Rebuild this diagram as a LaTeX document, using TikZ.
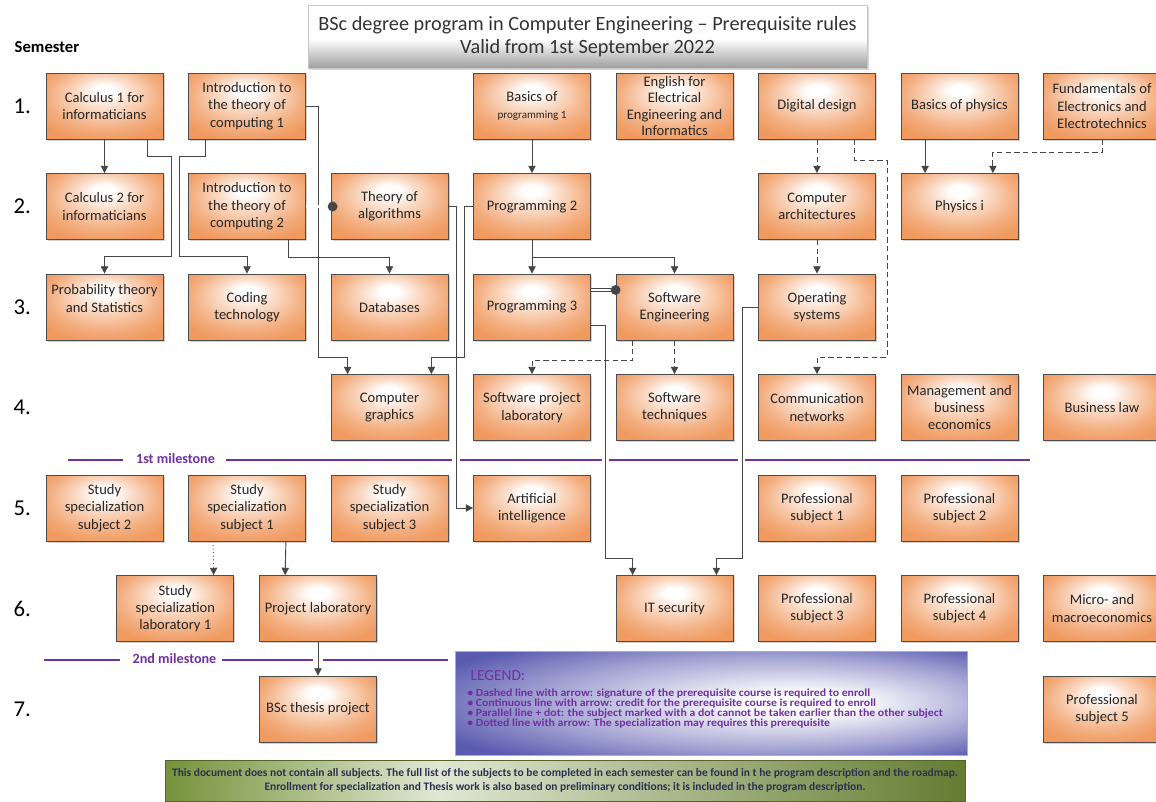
\documentclass[tikz,border=0pt]{standalone}
\usepackage{fontspec}
\setmainfont{Carlito}
\usetikzlibrary{arrows.meta,calc,shadows}
\definecolor{boxor}{RGB}{240,154,96}
\definecolor{lnkcol}{RGB}{70,70,70}
\definecolor{milecol}{RGB}{112,48,160}
\definecolor{legblue}{RGB}{90,90,176}
\definecolor{footgr}{RGB}{118,146,58}
\definecolor{foottxt}{RGB}{40,50,80}
\pgfdeclareradialshading{subjglow}{\pgfpoint{0bp}{13bp}}{color(0bp)=(white); color(4bp)=(white); color(12bp)=(boxor!35); color(24bp)=(boxor!80); color(32bp)=(boxor); color(50bp)=(boxor)}
\pgfdeclareradialshading{legglow}{\pgfpoint{10bp}{0bp}}{color(0bp)=(white); color(5bp)=(white); color(22bp)=(legblue!55); color(34bp)=(legblue); color(50bp)=(legblue)}
\pgfdeclarehorizontalshading{footglow}{100bp}{color(0bp)=(footgr); color(25bp)=(footgr); color(42bp)=(footgr!22); color(75bp)=(footgr!85!black); color(100bp)=(footgr!85!black)}
\pgfdeclareverticalshading{titleglow}{100bp}{color(0bp)=(black!38); color(25bp)=(black!38); color(48bp)=(white); color(100bp)=(white)}
\tikzset{
  subj/.style={draw=black!70, line width=0.6pt, shading=subjglow, minimum width=87.75pt, minimum height=49.5pt,
    inner sep=1pt, align=center, text=black!85, font=\fontsize{10.9}{13}\selectfont,
    drop shadow={shadow xshift=1.2pt, shadow yshift=-1.2pt, opacity=0.35}},
  lnk/.style={draw=lnkcol, line width=0.7pt},
  req/.style={lnk, -{Triangle[length=5.5pt,width=5.5pt]}},
  sig/.style={req, dash pattern=on 4pt off 2.5pt},
  spec/.style={req, dotted},
  par/.style={lnk, double=white, double distance=1.6pt, line width=0.6pt},
  mile/.style={draw=milecol, line width=2.2pt},
  miletxt/.style={text=milecol, font=\bfseries\fontsize{10.6}{12}\selectfont},
  semlbl/.style={anchor=west, font=\fontsize{17}{18}\selectfont},
  legline/.style={anchor=west, inner sep=0pt, text=milecol, font=\bfseries\fontsize{8.2}{9}\selectfont}
}
\begin{document}
\begin{tikzpicture}[x=0.75pt,y=-0.75pt]
\fill[white] (0,0) rectangle (1156,801);
\useasboundingbox (0,0) rectangle (1156,801);
% title and semester column
\node[draw=black!22, shading=titleglow, minimum width=419.25pt, minimum height=47.25pt, align=center, text=black!80,
  font=\fontsize{15.2}{17.5}\selectfont, drop shadow={shadow xshift=1.2pt, shadow yshift=-1.2pt, opacity=0.3}] (title) at (587.5,36.5)
  {BSc degree program in Computer Engineering – Prerequisite rules\\Valid from 1st September 2022};
\node[anchor=west, font=\bfseries\fontsize{12.5}{14}\selectfont] (semhead) at (10,47) {Semester};
\foreach \r in {1,...,7} \node[semlbl] (sem\r) at (9,{106+100.5*(\r-1)}) {\r.};

% semester 1
\node[subj] (calcA) at (104.5,106) {Calculus 1 for\\informaticians};
\node[subj] (introA) at (247,106) {Introduction to\\the theory of\\computing 1};
\node[subj] (basprog) at (532,106) {Basics of\\{\fontsize{8.3}{10}\selectfont programming 1}};
\node[subj, font=\fontsize{10.9}{12.4}\selectfont] (engl) at (674.5,106) {English for\\Electrical\\Engineering and\\Informatics};
\node[subj] (digit) at (817,106) {Digital design};
\node[subj] (basphys) at (959.5,106) {Basics of physics};
\node[subj] (fund) at (1102,106) {Fundamentals of\\Electronics and\\Electrotechnics};
% semester 2
\node[subj] (calcB) at (104.5,206.5) {Calculus 2 for\\informaticians};
\node[subj] (introB) at (247,206.5) {Introduction to\\the theory of\\computing 2};
\node[subj] (algo) at (389.5,206.5) {Theory of\\algorithms};
\node[subj] (progB) at (532,206.5) {Programming 2};
\node[subj] (comparch) at (817,206.5) {Computer\\architectures};
\node[subj] (phys) at (959.5,206.5) {Physics i};
% semester 3
\node[subj] (prob) at (104.5,307) {Probability theory\\and Statistics\\~};
\node[subj] (coding) at (247,307) {Coding\\technology};
\node[subj] (db) at (389.5,307) {Databases};
\node[subj] (progC) at (532,307) {Programming 3};
\node[subj] (swe) at (674.5,307) {Software\\Engineering};
\node[subj] (os) at (817,307) {Operating\\systems};
% semester 4
\node[subj] (cg) at (389.5,407.5) {Computer\\graphics};
\node[subj] (spl) at (532,407.5) {Software project\\laboratory};
\node[subj] (swtech) at (674.5,407.5) {Software\\techniques};
\node[subj] (comnet) at (817,407.5) {Communication\\networks};
\node[subj] (mgmt) at (959.5,407.5) {Management and\\business\\economics};
\node[subj] (blaw) at (1102,407.5) {Business law};
% semester 5
\node[subj] (ssB) at (104.5,508) {Study\\specialization\\subject 2};
\node[subj] (ssA) at (247,508) {Study\\specialization\\subject 1};
\node[subj] (ssC) at (389.5,508) {Study\\specialization\\subject 3};
\node[subj] (ai) at (532,508) {Artificial\\intelligence};
\node[subj] (profA) at (817,508) {Professional\\subject 1};
\node[subj] (profB) at (959.5,508) {Professional\\subject 2};
% semester 6
\node[subj] (labA) at (175.25,608.5) {Study\\specialization\\laboratory 1};
\node[subj] (projlab) at (318,608.5) {Project laboratory};
\node[subj] (itsec) at (674.5,608.5) {IT security};
\node[subj] (profC) at (817,608.5) {Professional\\subject 3};
\node[subj] (profD) at (959.5,608.5) {Professional\\subject 4};
\node[subj] (micro) at (1102,608.5) {Micro- and\\macroeconomics};
% semester 7
\node[subj] (thesis) at (318,709) {BSc thesis project};
\node[subj] (profE) at (1102,709) {Professional\\subject 5};

% milestones
\foreach \a/\b in {68/123,226/452,460/602,609/738,745/1030} \draw[mile] (\a,460) -- (\b,460);
\node[miletxt] (msA) at (175.5,459) {1st milestone};
\foreach \a/\b in {44/120,222/313,323/448} \draw[mile] (\a,660) -- (\b,660);
\node[miletxt] (msB) at (174.5,659) {2nd milestone};

% prerequisites
\draw[req] (calcA) -- (calcB);
\draw[req] ($(calcA.south east)+(-16,0)$) -- ++(0,17.25) -| (171,256.75) -| (prob.north);
\draw[req] ($(introA.south west)+(17,0)$) -- ++(0,17.25) -| (179,256.75) -| (coding.north);
\draw[req] (introA.east) -| (318,357.25) -| ($(cg.north west)+(17,0)$);
\draw[req] ($(introB.south east)+(-17,0)$) -- ++(0,17.25) -| (db.north);
\draw[par] (introB.east) -- (algo.west); \fill[lnkcol] ($(algo.west)+(2,0)$) circle (3.7pt);
\draw[req] (algo.east) -- ++(8,0) |- (ai.west);
\draw[req] (progB.west) -| (464.5,357.25) -| ($(cg.north east)+(-17,0)$);
\draw[req] (basprog) -- (progB);
\draw[req] (progB) -- (progC);
\draw[req] (progB.south) -- ++(0,17.25) -| (swe.north);
\draw[par] ($(progC.east)+(0,-17)$) -- ($(swe.west)+(0,-17)$); \fill[lnkcol] ($(swe.west)+(0,-17)$) circle (3.7pt);
\draw[req] ($(progC.east)+(0,18)$) -| (605.5,558.25) -| ($(itsec.north west)+(17,0)$);
\draw[req] (os.west) -| (742.5,558.25) -| ($(itsec.north east)+(-17,0)$);
\draw[sig] ($(swe.south west)+(17,0)$) -- ++(0,20) -| (spl.north);
\draw[sig] (swe) -- (swtech);
\draw[sig] (digit) -- (comparch);
\draw[sig] ($(digit.south east)+(-21,0)$) -- ++(0,21) -| (887,357.25) -| (comnet.north);
\draw[sig] (comparch) -- (os);
\draw[req] ($(basphys.south west)+(24.5,0)$) -- ($(phys.north west)+(24.5,0)$);
\draw[sig] (fund.south) -- ++(0,13) -| ($(phys.north east)+(-25.5,0)$);
\draw[spec] ($(ssA.south west)+(25,0)$) -- ($(labA.north east)+(-20.5,0)$);
\draw[req] ($(ssA.south east)+(-20,0)$) -- ($(projlab.north west)+(26,0)$);
\draw[req] (projlab) -- (thesis);

% legend and footer
\node[draw=milecol!45, line width=0.6pt, shading=legglow, minimum width=384pt, minimum height=78pt,
  drop shadow={shadow xshift=1pt, shadow yshift=-1pt, opacity=0.3}] (legend) at (711,703) {};
\node[anchor=west, text=milecol, font=\fontsize{11.5}{12}\selectfont] (leghead) at (466,676) {LEGEND:};
\foreach \t [count=\i] in {Dashed line with arrow: signature of the prerequisite course is required to enroll,
  Continuous line with arrow: credit for the prerequisite course is required to enroll,
  Parallel line + dot: the subject marked with a dot cannot be taken earlier than the other subject,
  Dotted line with arrow: The specialization may requires this prerequisite}
  \node[legline] (leg\i) at (467,{694+9.7*(\i-1)}) {\scalebox{1.08}[1]{• \t}};
\node[draw=footgr!70!black, line width=0.4pt, shading=footglow, minimum width=600pt, minimum height=30.75pt, align=center,
  text=foottxt, font=\bfseries\fontsize{8.6}{10.5}\selectfont] (foot) at (565,780.5)
  {This document does not contain all subjects. The full list of the subjects to be completed in each semester can be found in t he program description and the roadmap.\\
   Enrollment for specialization and Thesis work is also based on preliminary conditions; it is included in the program description.};
\end{tikzpicture}
\end{document}
